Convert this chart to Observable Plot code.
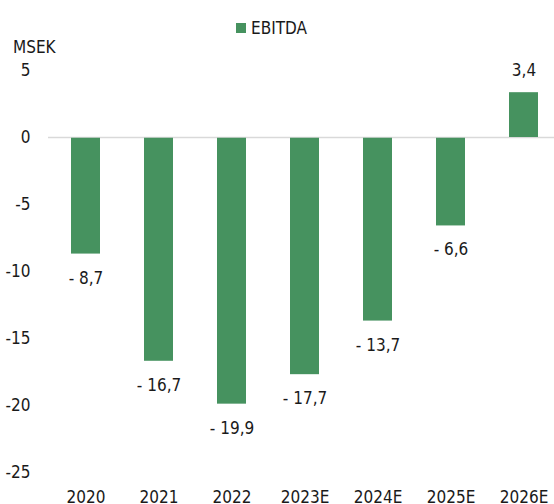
<!DOCTYPE html>
<html><head><meta charset="utf-8">
<script src="https://cdn.jsdelivr.net/npm/d3@7"></script>
<script src="https://cdn.jsdelivr.net/npm/@observablehq/plot@0.6"></script>
<style>
html,body{margin:0;padding:0;overflow:hidden;background:#fff;}
#wrap{position:relative;width:554px;height:504px;overflow:hidden;font-family:"Liberation Sans Narrow","Arial Narrow","DejaVu Sans Condensed",sans-serif;color:#1a1a1a;}
#legend{position:absolute;top:18px;left:236px;font-size:17px;display:flex;align-items:center;line-height:20px;}
#legend .sw{width:10px;height:10px;background:#46925f;margin-right:5px;}
#unit{position:absolute;left:13px;top:37px;font-size:17px;line-height:20px;}
#chart{position:absolute;left:0;top:0;}
</style></head>
<body>
<div id="wrap">
  <div id="chart"></div>
  <div id="legend"><span class="sw"></span><span>EBITDA</span></div>
  <div id="unit">MSEK</div>
</div>
<script>
const years = ["2020", "2021", "2022", "2023E", "2024E", "2025E", "2026E"];
const ebitda = [-8.7, -16.7, -19.9, -17.7, -13.7, -6.6, 3.4];
const yTicks = [5, 0, -5, -10, -15, -20, -25];
const seriesName = "EBITDA";

const data = years.map((y, i) => ({year: y, value: ebitda[i]}));
const fmt = v => (v < 0 ? "- " : "") + Math.abs(v).toFixed(1).replace(".", ",");
const green = "#46925f";
const font = '"Liberation Sans Narrow","Arial Narrow","DejaVu Sans Condensed",sans-serif';

const chart = Plot.plot({
  width: 554,
  height: 530,
  marginLeft: 48,
  marginRight: -7,
  marginTop: 70,
  marginBottom: 58,
  style: {fontFamily: font, fontSize: "17px", color: "#1a1a1a", background: "transparent", overflow: "visible"},
  x: {domain: years, paddingInner: 0.6, paddingOuter: 0.3, label: null, tickSize: 0, tickPadding: 18},
  y: {domain: [-25, 5], ticks: yTicks, label: null, tickSize: 0, tickPadding: 18, tickFormat: d => String(d)},
  marks: [
    Plot.ruleY([0], {stroke: "#d9d9d9", strokeWidth: 1.5}),
    Plot.barY(data, {x: "year", y: "value", fill: green, insetTop: 0.75, insetBottom: 0}),
    Plot.text(data.filter(d => d.value < 0), {x: "year", y: "value", text: d => fmt(d.value), dy: 24, fontSize: 17, fill: "#1a1a1a"}),
    Plot.text(data.filter(d => d.value >= 0), {x: "year", y: "value", text: d => fmt(d.value), dy: -21, fontSize: 17, fill: "#1a1a1a"})
  ]
});
document.getElementById("chart").appendChild(chart);
</script>
</body></html>
